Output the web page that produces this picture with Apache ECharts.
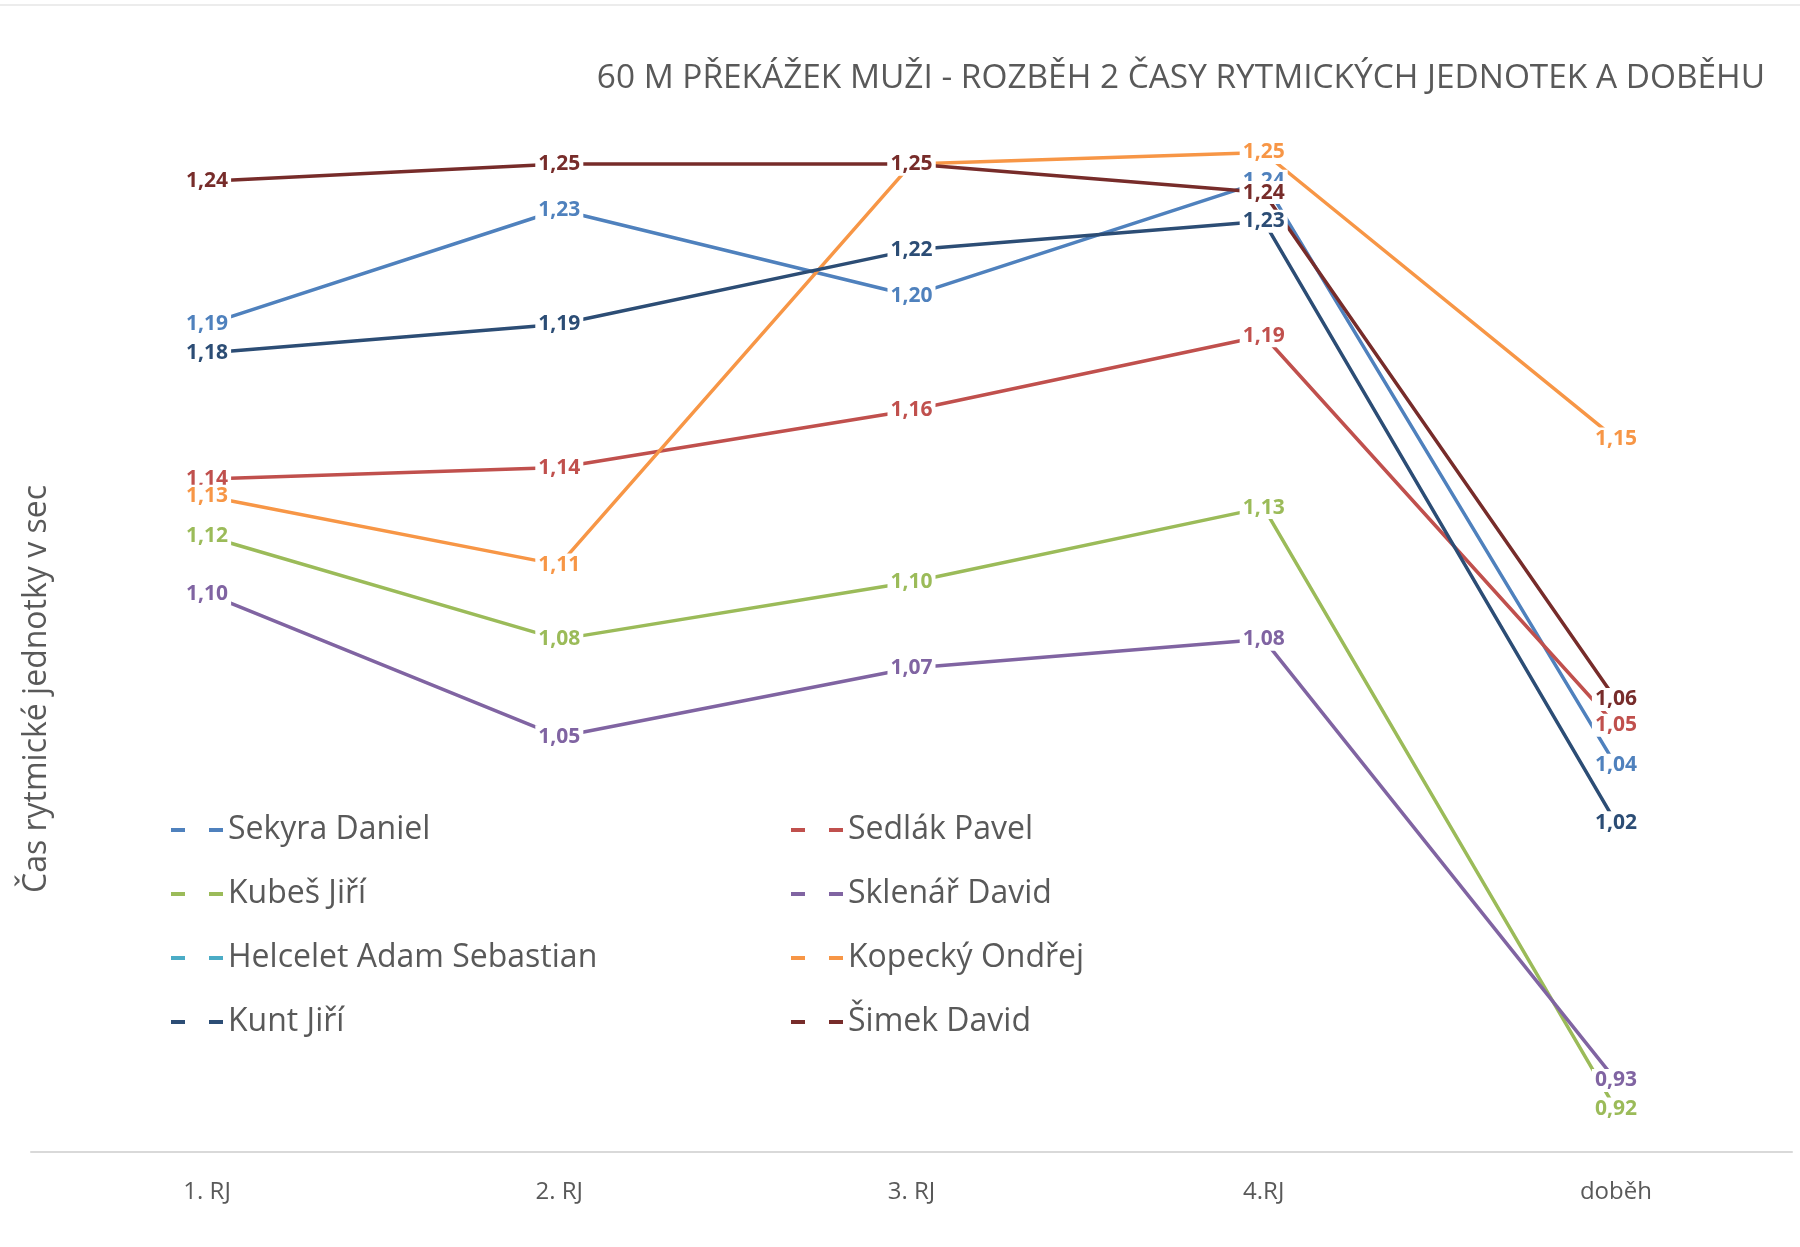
<!DOCTYPE html>
<html style="height: 100%">
   <head>
       <meta charset="utf-8">
   </head>
   <body style="height: 100%; margin: 0">
       <div id="container" style="width: 1800px; height: 1247px"></div>
       <script type="text/javascript" src="https://cdn.jsdelivr.net/npm/echarts@6/dist/echarts.min.js"></script>
       <script type="text/javascript">
// categories (úseky)
var categories = ['1. RJ', '2. RJ', '3. RJ', '4.RJ', 'doběh'];

// časy jednotlivých závodníků
var sekyra   = [1.194, 1.234, 1.204, 1.244, 1.040];
var sedlak   = [1.140, 1.144, 1.164, 1.190, 1.054];
var kubes    = [1.120, 1.084, 1.104, 1.130, 0.920];
var sklenar  = [1.100, 1.050, 1.074, 1.084, 0.930];
var helcelet = [null, null, null, null, null];
var kopecky  = [1.134, 1.110, 1.250, 1.254, 1.154];
var kunt     = [1.184, 1.194, 1.220, 1.230, 1.020];
var simek    = [1.244, 1.250, 1.250, 1.240, 1.063];

var names  = ['Sekyra Daniel', 'Sedlák Pavel', 'Kubeš Jiří', 'Sklenář David',
              'Helcelet Adam Sebastian', 'Kopecký Ondřej', 'Kunt Jiří', 'Šimek David'];
var values = [sekyra, sedlak, kubes, sklenar, helcelet, kopecky, kunt, simek];
var colors = ['#4F81BD', '#C0504D', '#9BBB59', '#8064A2', '#4BACC6', '#F79646', '#2C4D75', '#772C2A'];

var dom = document.getElementById("container");
var myChart = echarts.init(dom);
var font = '"Open Sans", "DejaVu Sans", sans-serif';
var keyIcon = 'path://M0,0H14V4H0Z M38,0H52V4H38Z';

var series = names.map(function (name, i) {
    return {
        name: name,
        type: 'line',
        data: values[i],
        symbol: 'circle',
        symbolSize: 1,
        showSymbol: true,
        animation: false,
        color: colors[i],
        lineStyle: { width: 3.5, color: colors[i] },
        itemStyle: { color: colors[i] },
        label: {
            show: true,
            position: 'inside',
            color: colors[i],
            fontFamily: font,
            fontWeight: 'bold',
            fontSize: 21,
            backgroundColor: '#ffffff',
            padding: [1, 3],
            formatter: function (p) {
                return p.value == null ? '' : p.value.toFixed(2).replace('.', ',');
            }
        }
    };
});

var legendText = { color: '#595959', fontFamily: font, fontSize: 32, lineHeight: 34 };

option = {
    backgroundColor: '#ffffff',
    title: {
        text: '60 M PŘEKÁŽEK MUŽI - ROZBĚH 2 ČASY RYTMICKÝCH JEDNOTEK A DOBĚHU',
        right: 30,
        top: 57,
        textStyle: { color: '#595959', fontFamily: font, fontWeight: 'normal', fontSize: 33.4 }
    },
    legend: [{
        data: [names[0], names[2], names[4], names[6]],
        orient: 'vertical',
        left: 166,
        top: 808,
        itemGap: 30,
        itemWidth: 52,
        itemHeight: 4,
        icon: keyIcon,
        textStyle: legendText
    }, {
        data: [names[1], names[3], names[5], names[7]],
        orient: 'vertical',
        left: 786,
        top: 808,
        itemGap: 30,
        itemWidth: 52,
        itemHeight: 4,
        icon: keyIcon,
        textStyle: legendText
    }],
    grid: { left: 31, right: 8, top: 20.75, bottom: 95, containLabel: false },
    xAxis: {
        type: 'category',
        data: categories,
        boundaryGap: true,
        axisLine: { lineStyle: { color: '#D9D9D9', width: 2 } },
        axisTick: { show: false },
        axisLabel: { color: '#595959', fontFamily: font, fontSize: 24, margin: 28 }
    },
    yAxis: {
        type: 'value',
        min: 0.905,
        max: 1.3,
        show: false,
        splitLine: { show: false }
    },
    graphic: [{
        type: 'text',
        x: 37,
        y: 689,
        rotation: Math.PI / 2,
        style: {
            text: 'Čas rytmické jednotky v sec',
            fill: '#595959',
            font: '32px ' + font,
            align: 'center',
            verticalAlign: 'middle'
        }
    }, {
        type: 'line',
        shape: { x1: 0, y1: 5, x2: 1800, y2: 5 },
        style: { stroke: '#D9D9D9', lineWidth: 1 }
    }],
    series: series
};

if (option && typeof option === "object") {
    myChart.setOption(option, true);
}
       </script>
   </body>
</html>
